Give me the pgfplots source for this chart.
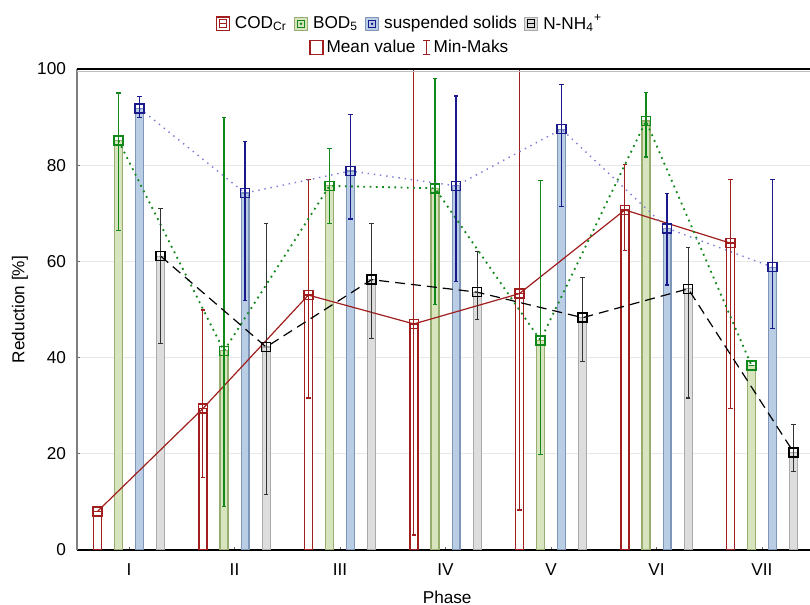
\documentclass[border=0pt]{standalone}
\usepackage{fontspec}
\setmainfont{Liberation Sans}
\usepackage{pgfplots}
\usepackage{pgfplotstable}
\pgfplotsset{compat=1.18}

\definecolor{codc}{HTML}{A01E1E}
\definecolor{bodfill}{HTML}{D7E4BD}
\definecolor{bodedge}{HTML}{98AE70}
\definecolor{bodc}{HTML}{10881A}
\definecolor{ssfill}{HTML}{B9CDE5}
\definecolor{ssedge}{HTML}{7F96B8}
\definecolor{ssc}{HTML}{1A1A8C}
\definecolor{ssline}{HTML}{7A7AD6}
\definecolor{nhfill}{HTML}{DDDDDD}
\definecolor{nhedge}{HTML}{AAAAAA}
\definecolor{nhc}{HTML}{333333}

% g = phase index, mean, min, max
\pgfplotstableread{
g mean min max
1 8.0 8.0 8.0
2 29.4 15.1 49.9
3 53.0 31.6 77.1
4 47.0 3.1 110
5 53.3 8.3 110
6 70.7 62.2 80.1
7 63.8 29.4 77.1
}\cod
\pgfplotstableread{
g mean min max
1 85.1 66.5 95.0
2 41.4 9.1 89.9
3 75.7 67.9 83.5
4 75.2 51.0 98.0
5 43.6 19.9 76.8
6 89.2 81.7 95.1
7 38.4 38.4 38.4
}\bod
\pgfplotstableread{
g mean min max
1 91.8 89.9 94.3
2 74.2 51.9 84.9
3 78.8 68.8 90.6
4 75.7 55.9 94.4
5 87.5 71.4 96.7
6 66.9 55.1 74.1
7 58.8 46.0 77.1
}\ss
\pgfplotstableread{
g mean min max
1 61.1 43.0 71.0
2 42.2 11.6 67.9
3 56.2 44.0 67.8
4 53.6 47.9 62.0
5 48.3 39.2 56.6
6 54.3 31.6 62.9
7 20.3 16.4 26.1
}\nh

\newcommand{\fnt}{\fontsize{8.6}{10}\selectfont}

\pgfplotsset{
  commonax/.style={
    width=366.5pt, height=240.5pt, scale only axis,
    xmin=0.507, xmax=7.455, ymin=0, ymax=100,
  },
  errs/.style 2 args={
    error bars/.cd, y dir=both, y explicit,
    error bar style={#1, solid, line width=0.6pt},
    error mark options={#1, solid, line width=0.6pt, mark size=1.1pt, rotate=90},
  },
}

\begin{document}
\begin{tikzpicture}
\useasboundingbox (-38.5pt,-27.5pt) rectangle (366.5pt,275pt);
\begin{axis}[
  commonax, name=main, at={(0,0)}, anchor=south west,
  xtick={1,...,7}, xticklabels={I,II,III,IV,V,VI,VII},
  ytick={0,20,...,100},
  axis x line*=bottom, axis y line*=left,
  x axis line style={-, black, line width=0.6pt},
  y axis line style={-, black!50, line width=0.8pt},
  tick align=inside, major tick length=1.5pt,
  tick style={black!60, line width=0.5pt},
  ymajorgrids, grid style={color=black!9, line width=0.5pt},
  /pgf/number format/assume math mode=true,
  tick label style={font=\fnt},
  xticklabel style={yshift=-3.5pt},
  yticklabel style={xshift=-2pt},
  label style={font=\fnt},
  xlabel={Phase}, ylabel={Reduction [\%]},
  xlabel style={at={(axis description cs:0.505,0)}, anchor=center, yshift=-23.5pt},
  ylabel style={at={(axis description cs:-0.078,0.5)}, anchor=center},
  legend style={at={(0.454,1.094)}, anchor=center, draw=none, fill=none,
    font=\fnt, legend columns=-1,
    /tikz/every odd column/.append style={column sep=1.5pt},
    /tikz/every even column/.append style={column sep=2.5pt},
    nodes={inner sep=1pt}},
]
% bars
\addplot[ybar, bar width=0.075, bar shift=0pt, draw=codc, fill=white, line width=0.7pt, forget plot]
  table[x expr=\thisrow{g}-0.3, y=mean]{\cod};
\addplot[ybar, bar width=0.075, bar shift=0pt, draw=bodedge, fill=bodfill, line width=0.6pt, forget plot]
  table[x expr=\thisrow{g}-0.1, y=mean]{\bod};
\addplot[ybar, bar width=0.075, bar shift=0pt, draw=ssedge, fill=ssfill, line width=0.6pt, forget plot]
  table[x expr=\thisrow{g}+0.1, y=mean]{\ss};
\addplot[ybar, bar width=0.075, bar shift=0pt, draw=nhedge, fill=nhfill, line width=0.6pt, forget plot]
  table[x expr=\thisrow{g}+0.3, y=mean]{\nh};
% mean lines with min-max
\addplot[codc, line width=0.6pt, mark=square, mark size=2.25pt, mark options={solid, line width=0.8pt}, forget plot,
  errs={codc}{}]
  table[x expr=\thisrow{g}-0.3, y=mean, y error plus expr=\thisrow{max}-\thisrow{mean}, y error minus expr=\thisrow{mean}-\thisrow{min}]{\cod};
\addplot[bodc, line width=0.9pt, dash pattern=on 0.9pt off 2.2pt, mark=square, mark size=2.25pt, mark options={solid, line width=0.8pt}, forget plot,
  errs={bodc}{}]
  table[x expr=\thisrow{g}-0.1, y=mean, y error plus expr=\thisrow{max}-\thisrow{mean}, y error minus expr=\thisrow{mean}-\thisrow{min}]{\bod};
\addplot[ssline, line width=0.7pt, dash pattern=on 0.7pt off 2.4pt, mark=square, mark size=2.25pt, mark options={solid, ssc, line width=0.8pt}, forget plot,
  errs={ssc}{}]
  table[x expr=\thisrow{g}+0.1, y=mean, y error plus expr=\thisrow{max}-\thisrow{mean}, y error minus expr=\thisrow{mean}-\thisrow{min}]{\ss};
\addplot[black, line width=0.6pt, dash pattern=on 5pt off 3pt, mark=square, mark size=2.25pt, mark options={solid, line width=0.8pt}, forget plot,
  errs={nhc}{}]
  table[x expr=\thisrow{g}+0.3, y=mean, y error plus expr=\thisrow{max}-\thisrow{mean}, y error minus expr=\thisrow{mean}-\thisrow{min}]{\nh};
% legend row 1
\addlegendimage{legend image code/.code={
  \draw[draw=codc, fill=white, line width=0.7pt] (0pt,-3.3pt) rectangle (6.5pt,3.3pt);
  \draw[codc, line width=0.5pt] (1.4pt,-1.9pt) rectangle (5.1pt,1.9pt);
  \draw[codc, line width=0.5pt] (1.4pt,0pt) -- (5.1pt,0pt);}}
\addlegendimage{legend image code/.code={
  \draw[draw=bodedge, fill=bodfill, line width=0.6pt] (0pt,-3.3pt) rectangle (6.5pt,3.3pt);
  \draw[bodc, line width=0.5pt] (1.6pt,-1.7pt) rectangle (4.9pt,1.7pt);
  \fill[bodc] (3.25pt,0pt) circle (0.4pt);}}
\addlegendimage{legend image code/.code={
  \draw[draw=ssedge, fill=ssfill, line width=0.6pt] (0pt,-3.3pt) rectangle (6.5pt,3.3pt);
  \draw[ssc, line width=0.5pt] (1.6pt,-1.7pt) rectangle (4.9pt,1.7pt);
  \fill[ssc] (3.25pt,0pt) circle (0.4pt);}}
\addlegendimage{legend image code/.code={
  \draw[draw=nhedge, fill=nhfill, line width=0.6pt] (0pt,-3.3pt) rectangle (6.5pt,3.3pt);
  \draw[black, line width=0.5pt] (1.4pt,-1.9pt) rectangle (5.1pt,1.9pt);
  \draw[black, line width=0.5pt] (1.4pt,0pt) -- (5.1pt,0pt);}}
\legend{COD\textsubscript{Cr}, BOD\textsubscript{5}, suspended solids, N-NH\textsubscript{4}\textsuperscript{+}}
\end{axis}
\draw[black, line width=1.1pt] (main.north west) -- (main.north east);
\draw[black!25, line width=0.5pt] ([yshift=-1.1pt]main.north west) -- ([yshift=-1.1pt]main.north east);
% second legend row
\begin{axis}[
  commonax, at={(0,0)}, anchor=south west, hide axis,
  legend style={at={(0.454,1.044)}, anchor=center, draw=none, fill=none,
    font=\fnt, legend columns=-1,
    /tikz/every odd column/.append style={column sep=0.5pt},
    /tikz/every even column/.append style={column sep=2.5pt},
    nodes={inner sep=1pt}},
]
\addlegendimage{legend image code/.code={
  \draw[codc, line width=0.6pt] (0pt,-3.5pt) rectangle (6.5pt,3.5pt);}}
\addlegendimage{legend image code/.code={
  \draw[codc, line width=0.6pt] (3.25pt,-3.5pt) -- (3.25pt,3.5pt);
  \draw[codc, line width=0.6pt] (1.5pt,-3.5pt) -- (5pt,-3.5pt);
  \draw[codc, line width=0.6pt] (1.5pt,3.5pt) -- (5pt,3.5pt);}}
\legend{Mean value, Min-Maks}
\end{axis}
\end{tikzpicture}
\end{document}
